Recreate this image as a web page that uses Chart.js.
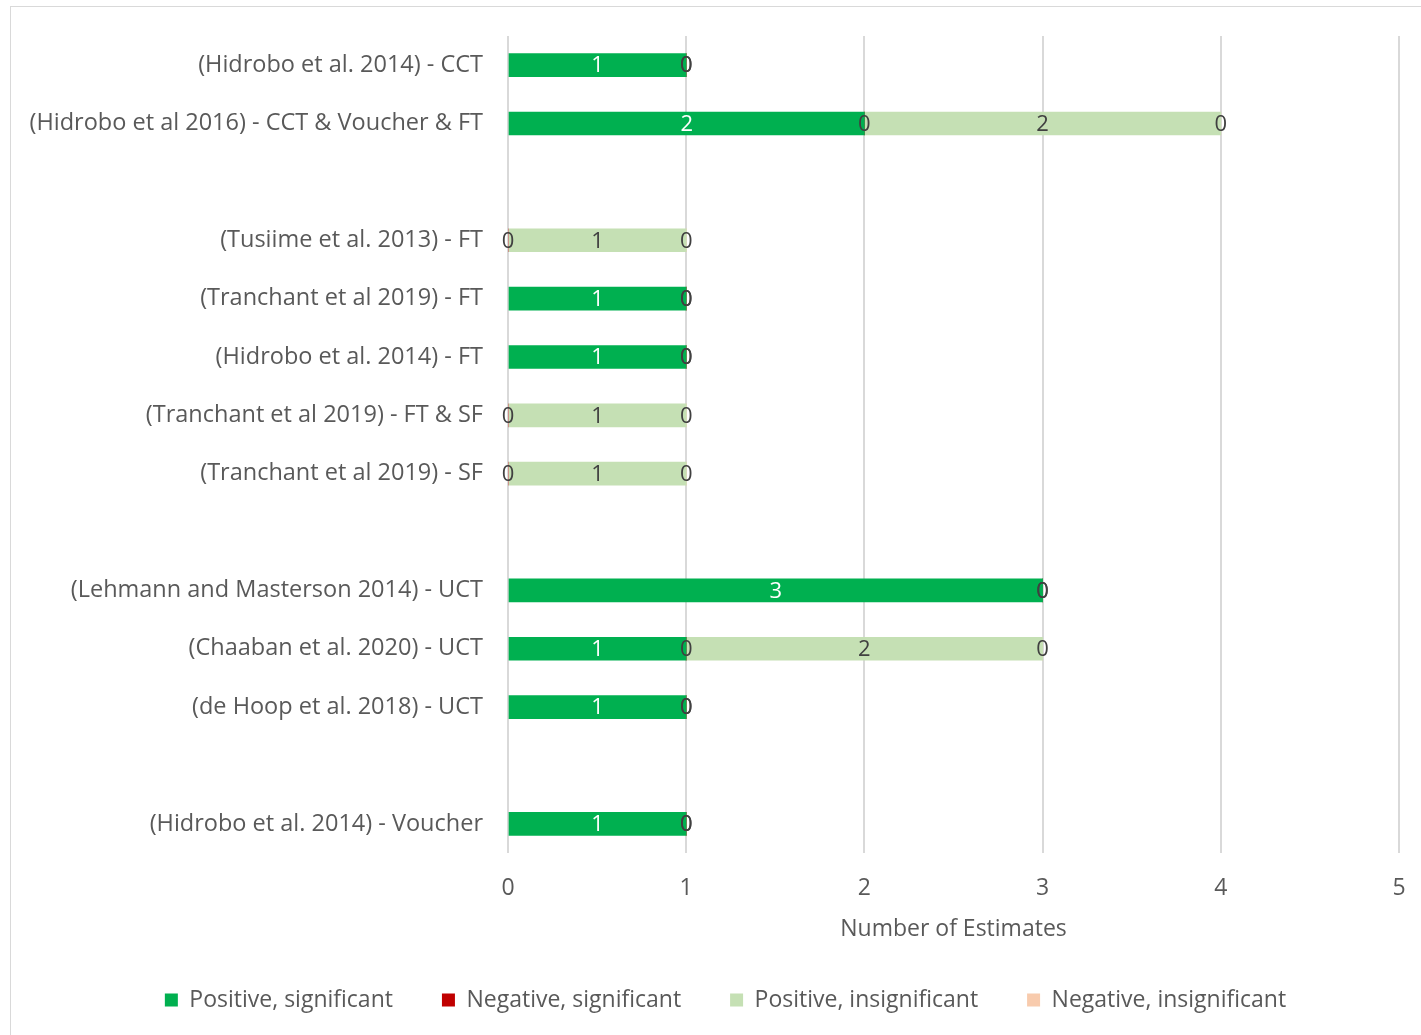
<!DOCTYPE html>
<html>
<head>
<meta charset="utf-8">
<script src="https://cdn.jsdelivr.net/npm/chart.js@4"></script>
<style>
  html, body { margin: 0; padding: 0; background: #fff; overflow: hidden; }
  #frame { position: absolute; left: 10px; top: 6px; width: 1430px; height: 1050px; border: 1px solid #d9d9d9; }
  #chart { position: absolute; left: 0; top: 0; }
</style>
</head>
<body>
<div id="frame"></div>
<canvas id="chart" width="1421" height="1035"></canvas>
<script>
// categories top to bottom, blank entries are the gaps between groups
const studies = [
  '(Hidrobo et al. 2014) - CCT',
  '(Hidrobo et al 2016) - CCT & Voucher & FT',
  '',
  '(Tusiime et al. 2013) - FT',
  '(Tranchant et al 2019) - FT',
  '(Hidrobo et al. 2014) - FT',
  '(Tranchant et al 2019) - FT & SF',
  '(Tranchant et al 2019) - SF',
  '',
  '(Lehmann and Masterson 2014) - UCT',
  '(Chaaban et al. 2020) - UCT',
  '(de Hoop et al. 2018) - UCT',
  '',
  '(Hidrobo et al. 2014) - Voucher'
];
const posSig   = [1, 2, null, null, 1, 1, null, null, null, 3, 1, 1, null, 1];
const negSig   = [0, 0, null, 0, 0, 0, 0, 0, null, 0, 0, 0, null, 0];
const posInsig = [null, 2, null, 1, null, null, 1, 1, null, null, 2, null, null, null];
const negInsig = [0, 0, null, 0, 0, 0, 0, 0, null, 0, 0, 0, null, 0];
const xTicks = [0, 1, 2, 3, 4, 5];

const FONT = '"Open Sans", "Noto Sans", sans-serif';
const TEXT = '#595959';

// simple data labels (no datalabels plugin available)
const barLabels = {
  id: 'barLabels',
  afterDatasetsDraw(chart) {
    const ctx = chart.ctx;
    ctx.save();
    ctx.font = '22px ' + FONT;
    ctx.textAlign = 'center';
    ctx.textBaseline = 'middle';
    chart.data.datasets.forEach((ds, i) => {
      const meta = chart.getDatasetMeta(i);
      meta.data.forEach((bar, j) => {
        const v = ds.data[j];
        if (v === null || v === undefined) return;
        ctx.fillStyle = i === 0 ? '#ffffff' : '#404040';
        ctx.fillText(String(v), (bar.x + bar.base) / 2, bar.y + 1);
      });
    });
    ctx.restore();
  }
};

// legend sits centred under the plot area rather than the whole canvas
const shiftLegend = {
  id: 'shiftLegend',
  afterLayout(chart) {
    if (!chart.legend) return;
    chart.legend.left += 21;
    chart.legend.right += 21;
  }
};

function render() {
  const ctx = document.getElementById('chart').getContext('2d');
  new Chart(ctx, {
    type: 'bar',
    data: {
      labels: studies,
      datasets: [
        { label: 'Positive, significant', data: posSig, backgroundColor: '#00B050' },
        { label: 'Negative, significant', data: negSig, backgroundColor: '#C00000' },
        { label: 'Positive, insignificant', data: posInsig, backgroundColor: '#C5E0B4' },
        { label: 'Negative, insignificant', data: negInsig, backgroundColor: '#F8CBAD' }
      ]
    },
    options: {
      indexAxis: 'y',
      responsive: false,
      animation: false,
      barThickness: 23,
      layout: { padding: { top: 36, left: 10, right: 22, bottom: 13.5 } },
      scales: {
        x: {
          stacked: true,
          min: 0, max: 5,
          afterBuildTicks: (s) => { s.ticks = xTicks.map(v => ({ value: v })); },
          afterFit: (s) => { s.height = 86.5; s.paddingLeft = 0; s.paddingRight = 0; },
          grid: { color: '#d9d9d9', lineWidth: 2, drawTicks: false },
          border: { display: false },
          ticks: { color: TEXT, font: { family: FONT, size: 23 }, padding: 22 },
          title: { display: true, text: 'Number of Estimates', color: TEXT, font: { family: FONT, size: 23 }, padding: { top: 0, bottom: -4 } }
        },
        y: {
          stacked: true,
          afterFit: (s) => { s.width = 498; },
          grid: { display: false },
          border: { display: false },
          ticks: { color: TEXT, font: { family: FONT, size: 23.5 }, padding: 17 }
        }
      },
      plugins: {
        legend: {
          position: 'bottom',
          labels: {
            color: TEXT,
            font: { family: FONT, size: 23 },
            boxWidth: 13, boxHeight: 13,
            padding: 49
          }
        },
        tooltip: { enabled: false }
      }
    },
    plugins: [barLabels, shiftLegend]
  });
}

document.addEventListener('DOMContentLoaded', render);
</script>
</body>
</html>
